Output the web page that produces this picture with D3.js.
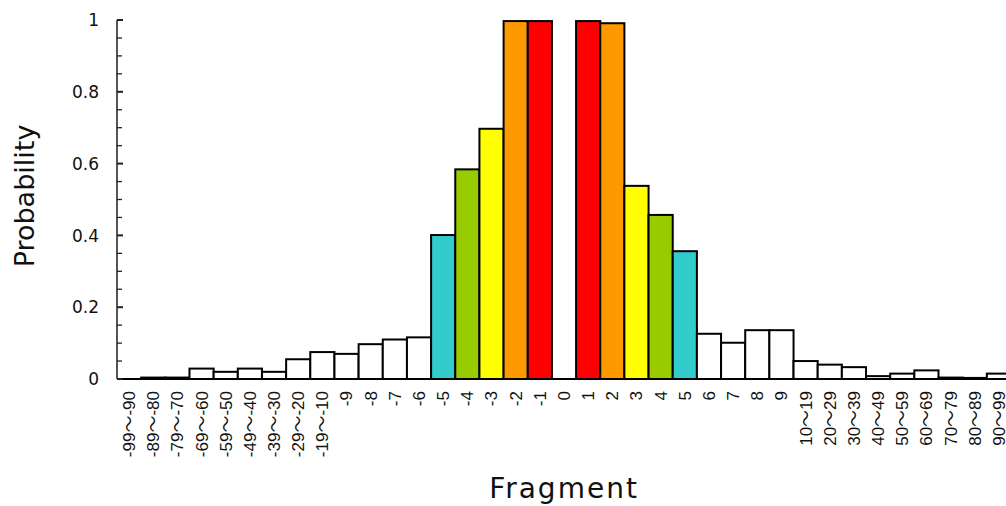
<!DOCTYPE html>
<meta charset="utf-8">
<head>
  <title>Fragment probability</title>
  <style>
    body { margin: 0; background: #fff; }
    svg { display: block; }
  </style>
</head>
<body>
<script src="https://cdnjs.cloudflare.com/ajax/libs/d3/7.8.5/d3.min.js"></script>
<div id="chart"></div>
<script>

// Fragment categories (left tail, near positions, right tail)
var fragments = [
  "-99～-90", "-89～-80", "-79～-70", "-69～-60", "-59～-50", "-49～-40", "-39～-30", "-29～-20", "-19～-10",
  "-9", "-8", "-7", "-6", "-5", "-4", "-3", "-2", "-1",
  "0",
  "1", "2", "3", "4", "5", "6", "7", "8", "9",
  "10～19", "20～29", "30～39", "40～49", "50～59", "60～69", "70～79", "80～89", "90～99"
];

var probability = [
  0, 0.004, 0.004, 0.029, 0.02, 0.029, 0.02, 0.055, 0.075,
  0.07, 0.097, 0.11, 0.116, 0.401, 0.584, 0.697, 0.997, 0.997,
  0,
  0.997, 0.991, 0.538, 0.457, 0.356, 0.126, 0.101, 0.136, 0.136,
  0.05, 0.04, 0.033, 0.008, 0.015, 0.024, 0.004, 0.003, 0.015
];

// colour by distance from 0 (|pos| 1..5), others white
var ringColors = ["#ff0000", "#ff9900", "#ffff00", "#99cc00", "#33cccc"];

var yTicks = [0, 0.2, 0.4, 0.6, 0.8, 1];

var width = 1006, height = 506;
var x0 = 117, x1 = 1011, yBottom = 379, yTop = 20;

var svg = d3.select("#chart").append("svg")
    .attr("width", width)
    .attr("height", height);

var x = d3.scaleBand()
    .domain(fragments)
    .range([x0, x1])
    .padding(0);

var y = d3.scaleLinear()
    .domain([0, 1])
    .range([yBottom, yTop]);

function barColor(name) {
  var n = +name;
  if (!isNaN(n) && n !== 0 && Math.abs(n) <= 5) return ringColors[Math.abs(n) - 1];
  return "#ffffff";
}

// bars
svg.append("g").selectAll("rect")
  .data(fragments)
  .enter().filter(function(d, i) { return probability[i] > 0; })
  .append("rect")
    .attr("x", function(d) { return x(d); })
    .attr("width", x.bandwidth())
    .attr("y", function(d) { return y(probability[fragments.indexOf(d)]); })
    .attr("height", function(d) { return yBottom - y(probability[fragments.indexOf(d)]); })
    .style("fill", function(d) { return barColor(d); })
    .style("stroke", "#000")
    .style("stroke-width", 2);

// x baseline
svg.append("line")
    .attr("x1", x0).attr("x2", width)
    .attr("y1", yBottom).attr("y2", yBottom)
    .style("stroke", "#000")
    .style("stroke-width", 2);

// y axis with inward ticks, minor every 0.05
var yAxis = svg.append("g").attr("transform", "translate(" + x0 + ",0)");

yAxis.append("line")
    .attr("x1", 0).attr("x2", 0)
    .attr("y1", yTop).attr("y2", yBottom)
    .style("stroke", "#555")
    .style("stroke-width", 2);

yAxis.selectAll(".minor")
  .data(d3.range(0, 21).map(function(i) { return i * 0.05; }))
  .enter().append("line")
    .attr("class", "minor")
    .attr("x1", 0).attr("x2", function(d, i) { return i % 4 === 0 ? 6 : 5; })
    .attr("y1", function(d) { return y(d); })
    .attr("y2", function(d) { return y(d); })
    .style("stroke", "#222")
    .style("stroke-width", function(d, i) { return i % 4 === 0 ? 2 : 1.3; });

yAxis.selectAll(".ylab")
  .data(yTicks)
  .enter().append("text")
    .attr("class", "ylab")
    .attr("x", -18)
    .attr("y", function(d) { return y(d); })
    .attr("dy", "0.36em")
    .attr("text-anchor", "end")
    .style("font-family", "DejaVu Sans, sans-serif")
    .style("font-size", "17px")
    .style("fill", "#111")
    .text(function(d) { return d; });

// x tick labels, rotated
svg.append("g").selectAll("text")
  .data(fragments)
  .enter().append("text")
    .attr("transform", function(d) {
      return "translate(" + (x(d) + x.bandwidth() / 2) + "," + 391 + ")rotate(-90)"; })
    .attr("dy", "0.35em")
    .attr("text-anchor", "end")
    .style("font-family", "Liberation Sans, Noto Sans CJK SC, sans-serif")
    .style("font-size", "17px")
    .style("fill", "#111")
    .text(function(d) { return d; });

// axis titles
svg.append("text")
    .attr("transform", "translate(" + 34 + "," + 196 + ")rotate(-90)")
    .attr("text-anchor", "middle")
    .style("font-family", "DejaVu Sans, sans-serif")
    .style("font-size", "27px")
    .style("fill", "#111")
    .text("Probability");

svg.append("text")
    .attr("x", 564)
    .attr("y", 498)
    .attr("text-anchor", "middle")
    .style("font-family", "DejaVu Sans, sans-serif")
    .style("font-size", "28px")
    .style("letter-spacing", "2px")
    .style("fill", "#111")
    .text("Fragment");

</script>
</body>
